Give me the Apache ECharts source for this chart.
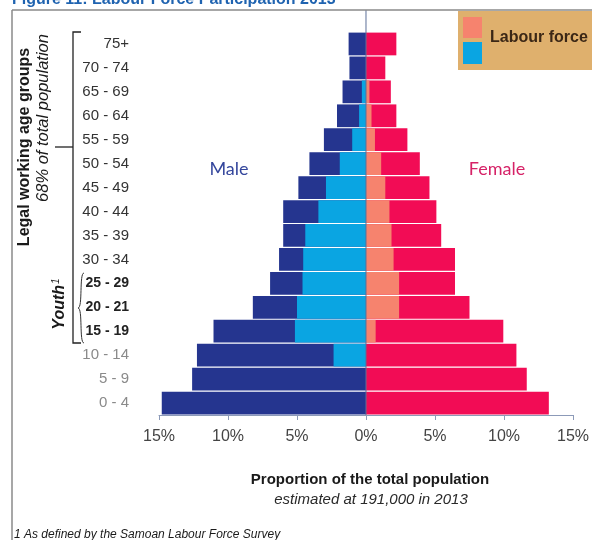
<!DOCTYPE html>
<html>
<head>
<meta charset="utf-8">
<script src="https://cdn.jsdelivr.net/npm/echarts@6/dist/echarts.min.js"></script>
<style>
  html, body { margin: 0; padding: 0; background: #ffffff; }
  #chart { width: 592px; height: 540px; }
</style>
</head>
<body>
<div id="chart"></div>
<script>
// Age groups, listed from the oldest (top row) to the youngest (bottom row)
const ageGroups = ['75+', '70 - 74', '65 - 69', '60 - 64', '55 - 59', '50 - 54', '45 - 49',
  '40 - 44', '35 - 39', '30 - 34', '25 - 29', '20 - 21', '15 - 19', '10 - 14', '5 - 9', '0 - 4'];
// Youth rows get bold labels, children under 15 get grey labels
const youthGroups = ['25 - 29', '20 - 21', '15 - 19'];
const childGroups = ['10 - 14', '5 - 9', '0 - 4'];

// Share of the total population (%) by sex, and the part of it in the labour force
const maleTotal    = [1.26, 1.2, 1.7, 2.1, 3.05, 4.1, 4.9, 6.0, 6.0, 6.3, 6.95, 8.2, 11.05, 12.25, 12.6, 14.8];
const maleLabour   = [0, 0, 0.3, 0.5, 1.0, 1.9, 2.9, 3.45, 4.4, 4.55, 4.6, 5.0, 5.15, 2.35, 0, 0];
const femaleTotal  = [2.2, 1.4, 1.8, 2.2, 3.0, 3.9, 4.6, 5.1, 5.45, 6.45, 6.45, 7.5, 9.95, 10.9, 11.65, 13.25];
const femaleLabour = [0, 0, 0.25, 0.4, 0.65, 1.1, 1.4, 1.7, 1.85, 2.0, 2.4, 2.4, 0.7, 0, 0, 0];

// Percent ticks on the horizontal axis
const xTickMin = -15, xTickMax = 15, xTickStep = 5;

const SANS = "'Liberation Sans', Arial, sans-serif";

const C = {
  maleDark: '#25358f',
  maleLight: '#0aa5e2',
  femaleDark: '#f20c55',
  femaleLight: '#f6836e',
  axis: '#8c9ab8',
  centre: '#5d6f98',
  frame: '#8a8a8a'
};

const chart = echarts.init(document.getElementById('chart'), null, { renderer: 'canvas' });

const neg = arr => arr.map(v => -v);

function barSeries(name, data, color, z) {
  return {
    name: name,
    type: 'bar',
    data: data,
    barGap: '-100%',
    barCategoryGap: '5%',
    itemStyle: { color: color },
    z: z,
    silent: true,
    animation: false
  };
}

const option = {
  backgroundColor: '#ffffff',
  animation: false,
  grid: { left: 159, right: 13, top: 32, bottom: 125, containLabel: false },
  xAxis: {
    type: 'value',
    min: xTickMin,
    max: xTickMax,
    interval: xTickStep,
    axisLine: { show: true, onZero: false, lineStyle: { color: C.axis, width: 1 } },
    axisTick: { show: true, length: 5, lineStyle: { color: C.axis } },
    splitLine: { show: false },
    axisLabel: {
      margin: 14,
      color: '#444',
      fontFamily: SANS,
      fontSize: 16,
      formatter: v => Math.abs(v) + '%'
    }
  },
  yAxis: {
    type: 'category',
    data: ageGroups,
    inverse: true,
    axisLine: { show: false, onZero: false },
    axisTick: { show: false },
    axisLabel: {
      margin: 30,
      formatter: v => {
        if (youthGroups.includes(v)) return '{y|' + v + '}';
        if (childGroups.includes(v)) return '{c|' + v + '}';
        return '{n|' + v + '}';
      },
      rich: {
        n: { color: '#333', fontFamily: SANS, fontSize: 15 },
        y: { color: '#222', fontFamily: SANS, fontSize: 14, fontWeight: 'bold' },
        c: { color: '#8a8a8a', fontFamily: SANS, fontSize: 15 }
      }
    }
  },
  series: [
    barSeries('Male', neg(maleTotal), C.maleDark, 2),
    barSeries('Female', femaleTotal, C.femaleDark, 2),
    barSeries('Male labour force', neg(maleLabour), C.maleLight, 3),
    barSeries('Female labour force', femaleLabour, C.femaleLight, 3)
  ]
};

chart.setOption(option);

// Annotations drawn around the plot
const x0 = chart.convertToPixel({ xAxisIndex: 0 }, 0);
const axisY = chart.convertToPixel({ yAxisIndex: 0 }, ageGroups[ageGroups.length - 1]) + 12;

// Curly brace for the youth rows, built from two cubic curves
function braceHalves(x, yTop, yBot, r) {
  const yMid = (yTop + yBot) / 2;
  const st = { stroke: '#333', lineWidth: 1, fill: null };
  return [
    { type: 'bezierCurve', z: 10, style: st,
      shape: { x1: x + r, y1: yTop, cpx1: x - 2, cpy1: yTop, cpx2: x + 2, cpy2: yMid, x2: x - r, y2: yMid } },
    { type: 'bezierCurve', z: 10, style: st,
      shape: { x1: x - r, y1: yMid, cpx1: x + 2, cpy1: yMid, cpx2: x - 2, cpy2: yBot, x2: x + r, y2: yBot } }
  ];
}

chart.setOption({
  graphic: [
    // figure heading, mostly above the page edge
    { type: 'text', x: 12, y: 8, z: 10,
      style: { text: 'Figure 11: Labour Force Participation 2013', fill: '#1f63b0',
               font: 'bold 16px ' + SANS, textVerticalAlign: 'bottom' } },
    // frame
    { type: 'line', z: 10, shape: { x1: 12, y1: 10, x2: 592, y2: 10 },
      style: { stroke: C.frame, lineWidth: 1.5 } },
    { type: 'line', z: 10, shape: { x1: 12, y1: 10, x2: 12, y2: 540 },
      style: { stroke: C.frame, lineWidth: 1.5 } },
    // centre line at 0%
    { type: 'line', z: 5, shape: { x1: x0, y1: 10, x2: x0, y2: axisY },
      style: { stroke: C.centre, lineWidth: 1 } },
    // legend box
    { type: 'rect', z: 10, shape: { x: 458, y: 11, width: 134, height: 59 },
      style: { fill: '#dfb06d' } },
    { type: 'rect', z: 11, shape: { x: 463, y: 17, width: 19, height: 21 },
      style: { fill: C.femaleLight } },
    { type: 'rect', z: 11, shape: { x: 463, y: 42, width: 19, height: 22 },
      style: { fill: C.maleLight } },
    { type: 'text', z: 11, x: 490, y: 38,
      style: { text: 'Labour force', fill: '#3b2716', font: 'bold 16px ' + SANS,
               textVerticalAlign: 'middle' } },
    // sex labels
    { type: 'text', z: 10, x: 229, y: 169,
      style: { text: 'Male', fill: '#34469c', font: '18px Lato, ' + SANS,
               textAlign: 'center', textVerticalAlign: 'middle' } },
    { type: 'text', z: 10, x: 497, y: 169,
      style: { text: 'Female', fill: '#d62267', font: '18px Lato, ' + SANS,
               textAlign: 'center', textVerticalAlign: 'middle' } },
    // working-age bracket
    { type: 'polyline', z: 10,
      shape: { points: [[81, 32], [73, 32], [73, 343], [81, 343]] },
      style: { stroke: '#222', lineWidth: 1.3, fill: null } },
    { type: 'line', z: 10, shape: { x1: 55, y1: 147, x2: 73, y2: 147 },
      style: { stroke: '#222', lineWidth: 1.3 } },
    { type: 'text', z: 10, x: 25, y: 147, rotation: Math.PI / 2,
      style: { text: 'Legal working age groups', fill: '#1a1a1a', font: 'bold 16px ' + SANS,
               textAlign: 'center', textVerticalAlign: 'middle' } },
    { type: 'text', z: 10, x: 43, y: 118, rotation: Math.PI / 2,
      style: { text: '68% of total population', fill: '#1a1a1a', font: 'italic 16.5px ' + SANS,
               textAlign: 'center', textVerticalAlign: 'middle' } },
    // youth label
    { type: 'text', z: 10, x: 60, y: 304, rotation: Math.PI / 2,
      style: { text: '{a|Youth}{b|1}', textAlign: 'center', textVerticalAlign: 'middle',
               rich: {
                 a: { fill: '#1a1a1a', font: 'italic bold 16px ' + SANS },
                 b: { fill: '#1a1a1a', font: 'italic 10px ' + SANS, verticalAlign: 'top', padding: [0, 0, 8, 1] }
               } } },
    // axis title
    { type: 'text', z: 10, x: 370, y: 480,
      style: { text: 'Proportion of the total population', fill: '#1a1a1a',
               font: 'bold 15px ' + SANS, textAlign: 'center', textVerticalAlign: 'middle' } },
    { type: 'text', z: 10, x: 371, y: 500,
      style: { text: 'estimated at 191,000 in 2013', fill: '#2a2a2a',
               font: 'italic 15px ' + SANS, textAlign: 'center', textVerticalAlign: 'middle' } },
    // footnote
    { type: 'text', z: 10, x: 14, y: 535,
      style: { text: '1 As defined by the Samoan Labour Force Survey', fill: '#1a1a1a',
               font: 'italic 12px ' + SANS, textVerticalAlign: 'middle' } }
  ].concat(braceHalves(81, 273, 343, 3))
});
</script>
</body>
</html>
